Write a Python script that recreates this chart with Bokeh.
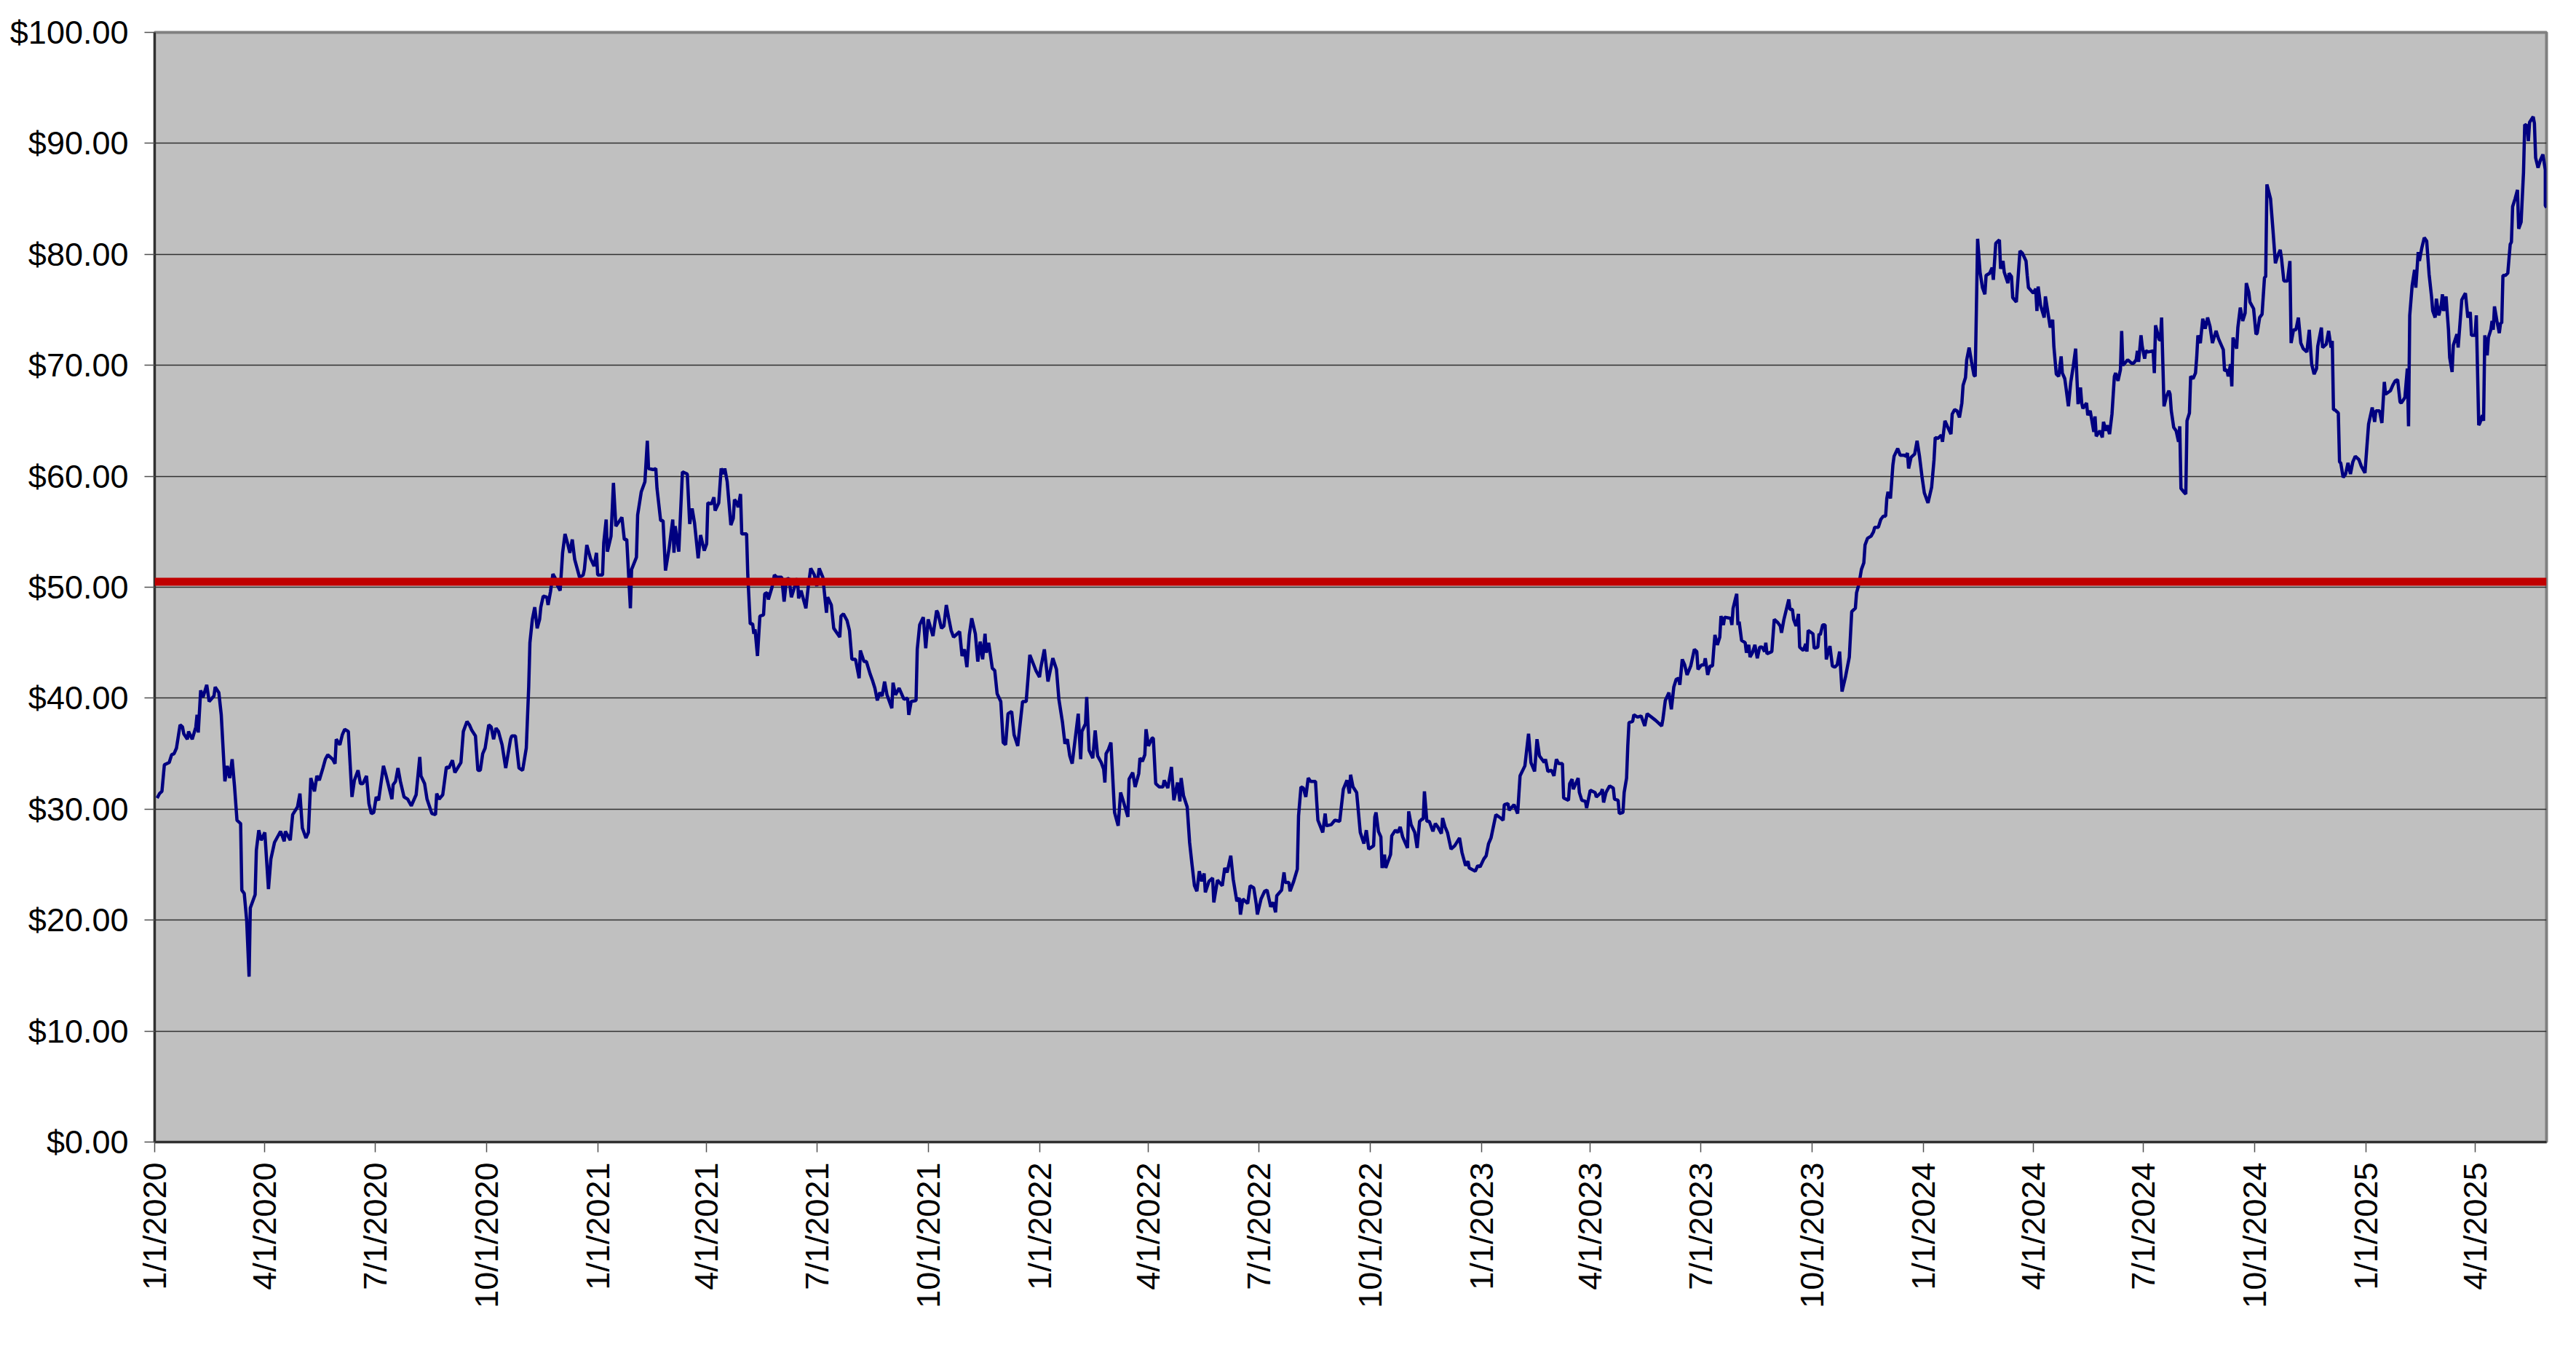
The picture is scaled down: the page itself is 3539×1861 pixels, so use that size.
import pandas as pd
from bokeh.plotting import figure
from bokeh.models import FixedTicker, Span, Range1d, ColumnDataSource
from bokeh.embed import file_html
from bokeh.resources import INLINE

# ---------------- data ----------------
start_date = "2020-01-01"
end_date = "2025-05-30"

day_offset = [
    2, 4, 6, 8, 12, 14, 16, 18, 21, 23, 24, 27, 28, 31, 34, 35, 36, 38, 40, 43,
    45, 49, 50, 53, 55, 58, 60, 62, 64, 66, 68, 71, 72, 74, 76, 78, 79, 83, 84, 86,
    88, 91, 94, 96, 99, 104, 107, 108, 112, 114, 118, 120, 122, 125, 127, 129, 132, 134, 136, 139,
    141, 143, 147, 149, 150, 153, 155, 157, 160, 163, 165, 168, 170, 172, 175, 177, 179, 181, 183, 185,
    189, 191, 196, 197, 199, 201, 203, 206, 209, 212, 216, 219, 220, 223, 225, 229, 232, 233, 235, 238,
    241, 243,
    246, 248, 253, 255, 258, 260, 262, 265, 267, 269, 271, 273, 276, 278, 280, 282, 284, 287, 290, 294,
    295, 298, 301, 304, 307, 309, 310, 312, 314, 316, 318, 319, 321, 324, 325, 327, 329, 331, 333, 335,
    337, 339, 341, 343, 345, 347, 351, 354, 355, 357, 360, 363, 365, 366, 370, 371, 373, 374, 377, 379,
    381, 386, 388, 390, 393, 394, 398, 399, 402, 405, 407, 408, 412, 414, 415, 418, 420, 422, 425, 428,
    429, 430, 433, 436, 440, 442, 444, 446, 449, 451, 454, 456, 457, 460, 462, 463, 466, 468, 470, 471,
    473, 476, 478, 479, 481, 482, 484, 485, 489, 490, 492, 494, 495, 496,
    498, 500, 503, 504, 506, 507, 510, 512, 514, 518, 520, 522, 524, 526, 528, 531, 532, 534, 538, 540,
    542, 545, 547, 549, 552, 555, 556, 559, 561, 566, 567, 569, 572, 574, 576, 579, 582, 583, 586, 588,
    591, 593, 595, 597, 599, 601, 603, 605, 609, 610, 612, 615, 619, 622, 623, 625, 629, 630, 632, 635,
    637, 639, 643, 646, 647, 650, 652, 654, 656, 658, 660, 662, 665, 667, 669, 671, 673, 675, 678, 680,
    682, 684, 686, 687, 689, 692, 694, 696, 699, 701, 703, 705, 708, 710, 713, 715, 717, 720, 723, 728,
    731, 732, 735, 738, 742, 745,
    747, 750, 752, 754, 756, 758, 761, 763, 765, 766, 769, 770, 772, 775, 777, 779, 782, 784, 785, 786,
    788, 790, 791, 793, 796, 798, 800, 804, 805, 808, 810, 813, 814, 816, 818, 819, 821, 824, 825, 827,
    830, 833, 834, 837, 840, 842, 845, 847, 848, 850, 853, 855, 857, 859, 861, 863, 865, 867, 868, 871,
    874, 875, 878, 882, 884, 886, 889, 891, 894, 896, 897, 899, 903, 905, 908, 910, 911, 914, 917, 919,
    922, 924, 926, 927, 931, 933, 934, 937, 938, 941, 944, 945, 947, 949, 951, 953, 955, 959, 960, 961,
    965, 967, 968, 972, 975, 979, 982, 985, 987, 988, 990, 993,
    996, 999, 1001, 1003, 1007, 1008, 1009, 1011, 1013, 1014, 1016, 1017, 1021, 1022, 1025, 1027, 1029, 1031, 1035, 1036,
    1038, 1041, 1043, 1045, 1047, 1048, 1049, 1051, 1053, 1056, 1058, 1060, 1063, 1064, 1066, 1068, 1071, 1074, 1078, 1080,
    1083, 1085, 1086, 1091, 1093, 1095, 1098, 1100, 1102, 1104, 1108, 1112, 1114, 1115, 1118, 1119, 1123, 1126, 1127, 1128,
    1132, 1135, 1137, 1140, 1142, 1144, 1148, 1149, 1151, 1154, 1156, 1158, 1160, 1163, 1164, 1168, 1169, 1171, 1172, 1176,
    1177, 1179, 1182, 1183, 1186, 1190, 1191, 1195, 1196, 1197, 1199, 1202, 1205, 1206, 1209, 1210, 1213, 1214, 1216, 1217,
    1218, 1221, 1222, 1225, 1228, 1231, 1233, 1240,
    1245, 1246, 1248, 1251, 1253, 1255, 1257, 1259, 1260, 1262, 1264, 1266, 1269, 1272, 1274, 1275, 1278, 1280, 1281, 1283,
    1285, 1287, 1288, 1289, 1291, 1293, 1294, 1296, 1297, 1302, 1303, 1304, 1306, 1307, 1308, 1309, 1311, 1314, 1315, 1317,
    1318, 1320, 1322, 1324, 1326, 1328, 1330, 1331, 1332, 1336, 1338, 1341, 1343, 1344, 1346, 1350, 1351, 1353, 1354, 1356,
    1358, 1359, 1362, 1364, 1365, 1366, 1370, 1371, 1374, 1375, 1376, 1378, 1380, 1381, 1384, 1386, 1388, 1390, 1392, 1394,
    1397, 1400, 1402, 1405, 1406, 1408, 1410, 1412, 1413, 1415, 1418, 1420, 1421, 1424, 1426, 1428, 1430, 1431, 1432, 1434,
    1436, 1437, 1440, 1442, 1445, 1447, 1448, 1449, 1451, 1454, 1456, 1458, 1460, 1462, 1465, 1468, 1470, 1471, 1473, 1476,
    1477, 1479, 1481, 1484, 1485, 1487, 1489, 1491,
    1493, 1494, 1496, 1497, 1499, 1501, 1503, 1504, 1505, 1506, 1508, 1510, 1512, 1513, 1516, 1518, 1519, 1521, 1524, 1525,
    1527, 1528, 1531, 1532, 1534, 1535, 1538, 1541, 1543, 1546, 1547, 1548, 1552, 1554, 1555, 1556, 1558, 1561, 1562, 1565,
    1566, 1568, 1569, 1571, 1573, 1575, 1576, 1578, 1579, 1581, 1583, 1585, 1587, 1589, 1591, 1592, 1593, 1596, 1597, 1599,
    1602, 1603, 1604, 1607, 1609, 1610, 1612, 1613, 1615, 1617, 1619, 1620, 1622, 1624, 1625, 1626, 1627, 1630, 1633, 1635,
    1637, 1638, 1639, 1641, 1642, 1644, 1645, 1647, 1651, 1652, 1653, 1656, 1657, 1658, 1660, 1662, 1664, 1665, 1666, 1668,
    1670, 1672, 1673, 1674, 1677, 1678, 1679, 1681, 1682, 1684, 1686, 1687, 1688, 1690, 1692, 1694, 1696, 1698, 1700, 1703,
    1705, 1709, 1710, 1712, 1713, 1715, 1716, 1717, 1720, 1721, 1723, 1725, 1727, 1728, 1730, 1731, 1734, 1736, 1737, 1739,
    1741, 1743, 1744,
    1745, 1748, 1750, 1752, 1754, 1756, 1757, 1759, 1762, 1764, 1765, 1767, 1769, 1771, 1773, 1775, 1778, 1780, 1782, 1784,
    1786, 1787, 1790, 1791, 1794, 1796, 1798, 1799, 1800, 1801, 1804, 1805, 1806, 1808, 1810, 1812, 1814, 1816, 1818, 1821,
    1823, 1826, 1829, 1832, 1834, 1835, 1838, 1840, 1842, 1843, 1847, 1849, 1851, 1853, 1855, 1856, 1859, 1861, 1862, 1863,
    1865, 1867, 1868, 1870, 1871, 1873, 1875, 1877, 1879, 1881, 1882, 1884, 1885, 1887, 1889, 1890, 1891, 1893, 1895, 1896,
    1898, 1899, 1902, 1903, 1906, 1909, 1911, 1913, 1914, 1917, 1918, 1920, 1921, 1923, 1924, 1925, 1927, 1928, 1930, 1931,
    1932, 1933, 1935, 1937, 1938, 1939, 1940, 1942, 1944, 1946, 1947, 1948, 1950, 1952, 1953, 1955, 1957, 1958, 1960, 1961,
    1962, 1965, 1966, 1967, 1969, 1971, 1973, 1975, 1975, 1976,
]

price = [
    31.0, 31.4, 31.6, 34.0, 34.2, 34.9, 35.0, 35.5, 37.6, 37.4, 36.8, 36.3, 37.0, 36.3, 37.4, 38.5, 36.9, 40.7, 40.1, 41.2,
    39.7, 40.2, 41.0, 40.5, 38.5, 32.5, 33.9, 32.8, 34.5, 32.0, 29.0, 28.7, 22.7, 22.4, 20.0, 14.9, 21.1, 22.3, 26.3, 28.1,
    27.2, 27.9, 22.8, 25.5, 27.0, 28.0, 27.1, 28.0, 27.2, 29.5, 30.2, 31.4, 28.3, 27.4, 27.9, 32.8, 31.6, 33.0, 32.6, 33.7,
    34.5, 34.9, 34.5, 34.1, 36.3, 35.8, 36.7, 37.2, 37.0, 31.1, 32.6, 33.5, 32.3, 32.3, 33.0, 30.5, 29.6, 29.7, 31.1, 30.8,
    33.9, 33.1, 30.9, 32.2, 32.5, 33.7, 32.5, 31.1, 30.9, 30.3, 31.3, 34.7, 33.0, 32.3, 30.9, 29.6, 29.5, 31.4, 30.9, 31.3,
    33.8, 33.7,
    34.4, 33.3, 34.2, 37.0, 37.9, 37.6, 37.1, 36.6, 33.5, 33.5, 35.0, 35.5, 37.6, 37.4, 36.3, 37.3, 37.0, 35.8, 33.7, 36.3,
    36.6, 36.6, 33.7, 33.5, 35.5, 41.0, 45.0, 47.1, 48.2, 46.3, 47.1, 48.2, 49.2, 49.1, 48.4, 49.6, 51.2, 50.8, 50.1, 49.7,
    53.1, 54.8, 54.0, 53.1, 54.3, 52.5, 50.9, 51.1, 51.6, 53.8, 52.6, 51.9, 53.1, 51.1, 51.1, 54.0, 56.1, 53.2, 54.6, 59.4,
    55.5, 56.3, 54.3, 54.3, 48.1, 51.6, 52.7, 56.5, 58.6, 59.5, 63.2, 60.7, 60.6, 60.7, 58.9, 56.0, 56.0, 51.5, 53.5, 56.1,
    53.1, 55.5, 53.2, 60.4, 60.2, 55.7, 57.1, 55.8, 52.6, 54.7, 53.3, 53.9, 57.6, 57.5, 58.1, 56.9, 57.6, 60.7, 60.2, 60.7,
    59.5, 55.6, 56.2, 57.9, 57.6, 57.2, 58.4, 54.8, 54.8, 51.1, 46.7, 46.7, 45.8, 46.2,
    43.8, 47.4, 47.5, 49.4, 49.5, 48.9, 50.0, 51.1, 50.9, 50.9, 48.7, 50.7, 50.8, 49.1, 49.8, 50.8, 49.0, 49.7, 48.1, 50.1,
    51.7, 51.1, 50.1, 51.7, 50.9, 47.7, 49.1, 48.4, 46.3, 45.5, 47.4, 47.6, 47.0, 46.1, 43.5, 43.5, 41.8, 44.3, 43.3, 43.3,
    42.2, 41.6, 40.9, 39.8, 40.5, 40.2, 41.5, 40.3, 39.1, 41.4, 40.3, 40.9, 39.9, 40.0, 38.5, 39.7, 39.8, 44.4, 46.6, 47.3,
    44.5, 47.1, 45.6, 47.9, 47.7, 46.3, 46.5, 48.4, 47.2, 46.1, 45.5, 45.7, 46.0, 43.8, 44.4, 42.8, 45.7, 47.2, 45.8, 43.3,
    45.1, 43.5, 45.8, 44.1, 45.0, 42.7, 42.5, 40.4, 39.7, 36.0, 35.8, 38.6, 38.8, 36.7, 35.7, 37.7, 39.7, 39.7, 43.9, 42.5,
    41.9, 42.7, 44.4, 41.5, 43.6, 42.6,
    39.9, 37.8, 35.9, 36.3, 34.8, 34.1, 36.8, 38.6, 34.5, 37.0, 37.7, 40.1, 35.3, 34.6, 37.1, 34.8, 34.2, 33.6, 32.4, 35.0,
    35.4, 36.0, 33.9, 29.7, 28.5, 31.5, 30.8, 29.3, 32.7, 33.3, 32.0, 33.2, 34.6, 34.3, 34.9, 37.2, 35.7, 36.4, 36.4, 32.3,
    32.0, 32.0, 32.6, 31.9, 33.8, 30.8, 32.4, 30.7, 32.8, 31.2, 30.2, 27.0, 25.0, 23.1, 22.6, 24.4, 23.5, 24.2, 22.5, 23.5,
    23.8, 21.6, 23.6, 23.1, 24.7, 24.3, 25.8, 23.7, 21.7, 22.0, 20.5, 21.9, 21.5, 23.1, 22.9, 21.5, 20.5, 21.9, 22.6, 22.7,
    21.2, 21.6, 20.7, 22.2, 22.7, 24.3, 23.4, 23.4, 22.6, 23.5, 24.6, 29.4, 32.0, 31.9, 31.1, 32.8, 32.5, 32.5, 30.7, 29.0,
    27.9, 29.6, 28.5, 28.6, 29.0, 28.9, 31.8, 32.6, 31.4, 33.1, 32.0, 31.5,
    27.9, 26.9, 28.1, 26.4, 26.7, 29.3, 29.7, 28.0, 27.5, 24.7, 25.9, 24.7, 25.9, 27.6, 28.1, 27.9, 28.4, 27.5, 26.5, 29.8,
    28.6, 27.9, 26.5, 28.9, 29.1, 29.1, 31.6, 28.9, 28.9, 28.0, 28.7, 28.4, 27.8, 29.2, 28.4, 27.9, 26.4, 26.7, 27.4, 26.1,
    24.9, 25.3, 24.7, 24.4, 24.9, 24.8, 25.5, 25.8, 26.9, 27.4, 29.5, 29.2, 29.0, 30.4, 30.5, 29.9, 30.4, 29.6, 31.3, 33.0,
    33.9, 36.8, 34.2, 33.4, 36.3, 34.8, 34.2, 34.5, 33.4, 33.5, 33.0, 34.5, 34.1, 34.1, 31.0, 30.8, 32.3, 32.7, 31.8, 32.8,
    31.5, 30.8, 30.7, 30.1, 31.7, 31.5, 31.1, 31.5, 31.8, 30.6, 31.5, 32.1, 31.9, 30.9, 30.8, 29.6, 29.7, 31.5, 32.8, 35.7,
    37.8, 37.9, 38.5, 38.3, 38.4, 37.5, 38.6, 38.0,
    37.5, 38.1, 39.8, 40.5, 39.0, 41.0, 41.7, 41.8, 41.2, 43.5, 43.0, 42.1, 42.9, 44.4, 44.2, 42.6, 43.0, 43.0, 43.6, 42.1,
    42.9, 42.9, 44.4, 45.7, 44.8, 45.5, 47.4, 46.6, 47.3, 47.2, 46.6, 48.1, 49.0, 49.4, 46.6, 46.9, 45.2, 45.0, 44.1, 44.8,
    43.7, 44.1, 44.8, 43.6, 44.6, 44.6, 44.2, 45.0, 44.0, 44.2, 47.1, 46.8, 46.5, 45.9, 47.1, 48.9, 48.0, 48.0, 47.1, 46.5,
    47.6, 44.6, 44.3, 44.9, 44.2, 46.1, 45.8, 44.5, 44.6, 45.8, 45.7, 46.6, 46.6, 43.5, 44.7, 42.9, 42.8, 43.0, 44.2, 40.6,
    42.0, 43.7, 47.8, 48.1, 49.5, 50.3, 51.6, 52.2, 53.8, 54.4, 54.6, 55.0, 55.4, 55.4, 56.1, 56.4, 56.4, 58.0, 58.6, 58.0,
    61.0, 61.8, 62.5, 61.9, 61.9, 61.8, 62.1, 60.7, 61.7, 62.0, 63.2, 61.8, 60.0, 58.5, 57.6, 59.0, 61.5, 63.5, 63.4, 63.7,
    63.1, 65.0, 64.5, 63.8, 65.6, 66.0, 65.9, 65.3,
    66.6, 68.2, 68.9, 70.5, 71.6, 70.3, 69.1, 69.0, 75.1, 81.4, 78.4, 77.0, 76.4, 78.1, 78.3, 78.8, 77.7, 81.0, 81.3, 78.7,
    79.4, 78.4, 77.4, 78.3, 78.0, 76.1, 75.7, 80.3, 80.1, 79.4, 78.1, 77.0, 76.5, 76.9, 74.9, 77.1, 75.4, 74.3, 76.2, 74.1,
    73.4, 74.1, 71.7, 69.2, 69.0, 70.8, 69.3, 68.8, 68.0, 66.3, 68.5, 69.9, 71.5, 66.5, 68.0, 66.6, 66.1, 66.6, 65.5, 65.9,
    64.0, 65.4, 63.6, 64.1, 63.5, 64.9, 64.1, 64.6, 63.8, 65.6, 69.0, 69.3, 68.6, 69.6, 73.1, 70.0, 70.1, 70.5, 70.2, 70.2,
    70.5, 71.3, 70.3, 72.7, 71.7, 70.6, 71.3, 71.2, 71.3, 69.3, 73.6, 72.3, 72.3, 74.3, 66.3, 67.2, 67.7, 67.4, 65.9, 64.4,
    64.1, 63.1, 64.5, 58.9, 58.5, 58.4, 65.0, 65.7, 69.0, 68.8, 69.3, 70.7, 72.7, 72.0, 74.2, 73.3, 74.3, 73.5, 72.0, 73.1,
    72.4, 71.4, 69.5, 69.6, 69.0, 70.1, 68.1, 72.5, 71.5, 73.4, 75.2, 74.0, 74.7, 77.4, 76.6, 75.7, 75.1, 72.8, 72.9, 74.3,
    74.6, 77.9, 78.0,
    86.3, 85.0, 82.2, 79.2, 79.9, 80.4, 79.7, 77.6, 77.6, 79.4, 72.0, 73.2, 73.2, 74.3, 72.0, 71.5, 71.2, 73.2, 70.1, 69.2,
    69.7, 71.7, 73.4, 71.6, 71.9, 73.1, 71.6, 72.2, 66.0, 66.0, 65.7, 61.3, 61.2, 59.9, 60.2, 61.2, 60.2, 61.3, 61.8, 61.5,
    60.9, 60.3, 64.7, 66.2, 64.9, 65.9, 65.9, 64.8, 68.5, 67.4, 67.7, 68.2, 68.6, 68.7, 66.7, 66.6, 67.1, 69.7, 64.5, 74.5,
    77.2, 78.6, 77.0, 80.2, 79.4, 80.6, 81.5, 81.2, 78.2, 76.2, 74.9, 74.3, 76.0, 74.5, 75.4, 76.4, 74.9, 76.2, 73.2, 70.7,
    69.4, 71.8, 72.8, 71.6, 75.9, 76.5, 74.3, 74.8, 72.7, 72.7, 74.5, 64.6, 64.8, 65.5, 65.0, 72.7, 70.9, 72.5, 73.2, 74.0,
    73.2, 75.3, 74.0, 72.9, 73.8, 73.8, 78.1, 78.1, 78.3, 80.9, 81.1, 84.3, 85.0, 85.8, 82.3, 82.9, 87.4, 91.7, 91.6, 90.2,
    91.9, 92.4, 91.8, 88.7, 87.8, 88.5, 89.0, 87.6, 84.4, 84.2,
]

reference_level = 50.5

y_ticks = [0, 10, 20, 30, 40, 50, 60, 70, 80, 90, 100]
y_tick_labels = ["$0.00", "$10.00", "$20.00", "$30.00", "$40.00", "$50.00",
                 "$60.00", "$70.00", "$80.00", "$90.00", "$100.00"]

x_tick_dates = ["2020-01-01", "2020-04-01", "2020-07-01", "2020-10-01",
                "2021-01-01", "2021-04-01", "2021-07-01", "2021-10-01",
                "2022-01-01", "2022-04-01", "2022-07-01", "2022-10-01",
                "2023-01-01", "2023-04-01", "2023-07-01", "2023-10-01",
                "2024-01-01", "2024-04-01", "2024-07-01", "2024-10-01",
                "2025-01-01", "2025-04-01"]
x_tick_labels = ["1/1/2020", "4/1/2020", "7/1/2020", "10/1/2020",
                 "1/1/2021", "4/1/2021", "7/1/2021", "10/1/2021",
                 "1/1/2022", "4/1/2022", "7/1/2022", "10/1/2022",
                 "1/1/2023", "4/1/2023", "7/1/2023", "10/1/2023",
                 "1/1/2024", "4/1/2024", "7/1/2024", "10/1/2024",
                 "1/1/2025", "4/1/2025"]

# ---------------- build ----------------
assert len(day_offset) == len(price)

epoch = pd.Timestamp("1970-01-01")
one_ms = pd.Timedelta(milliseconds=1)


def to_ms(ts):
    return int((pd.Timestamp(ts) - epoch) // one_ms)


dates = pd.Timestamp(start_date) + pd.to_timedelta(day_offset, unit="D")
source = ColumnDataSource(data=dict(date=list(dates), price=price))

x_tick_ms = [to_ms(d) for d in x_tick_dates]

FONT = "Liberation Sans"
FS = "45px"

p = figure(
    x_axis_type="datetime",
    x_range=Range1d(to_ms(start_date), to_ms(end_date)),
    y_range=Range1d(0, 100),
    frame_width=3286, frame_height=1524,
    min_border_left=212, min_border_right=33,
    min_border_top=44, min_border_bottom=285,
    output_backend="svg", toolbar_location=None,
)

p.background_fill_color = "#C0C0C0"
p.border_fill_color = "white"
p.outline_line_color = "#808080"
p.outline_line_width = 4

p.xgrid.visible = False
p.ygrid.grid_line_color = "#303030"
p.ygrid.grid_line_width = 1.5

p.line("date", "price", source=source, line_color="#000080", line_width=4.5)

p.add_layout(Span(location=reference_level, dimension="width",
                  line_color="#C00000", line_width=11))

# y axis
p.yaxis.ticker = FixedTicker(ticks=y_ticks)
p.yaxis.major_label_overrides = {t: l for t, l in zip(y_ticks, y_tick_labels)}
# x axis
p.xaxis.ticker = FixedTicker(ticks=x_tick_ms)
p.xaxis.major_label_overrides = {t: l for t, l in zip(x_tick_ms, x_tick_labels)}
p.xaxis.major_label_orientation = 3.141592653589793 / 2

for ax in (p.xaxis, p.yaxis):
    ax.major_label_text_font = FONT
    ax.major_label_text_font_size = FS
    ax.major_label_text_color = "black"
    ax.major_tick_out = 14
    ax.major_tick_in = 0
    ax.major_tick_line_color = "#505050"
    ax.major_tick_line_width = 1.5
    ax.minor_tick_line_color = None
    ax.axis_line_color = "#303030"
    ax.axis_line_width = 3

p.yaxis.major_label_standoff = 22
p.xaxis.major_label_standoff = 14

open("out.html", "w").write(file_html(p, INLINE))
